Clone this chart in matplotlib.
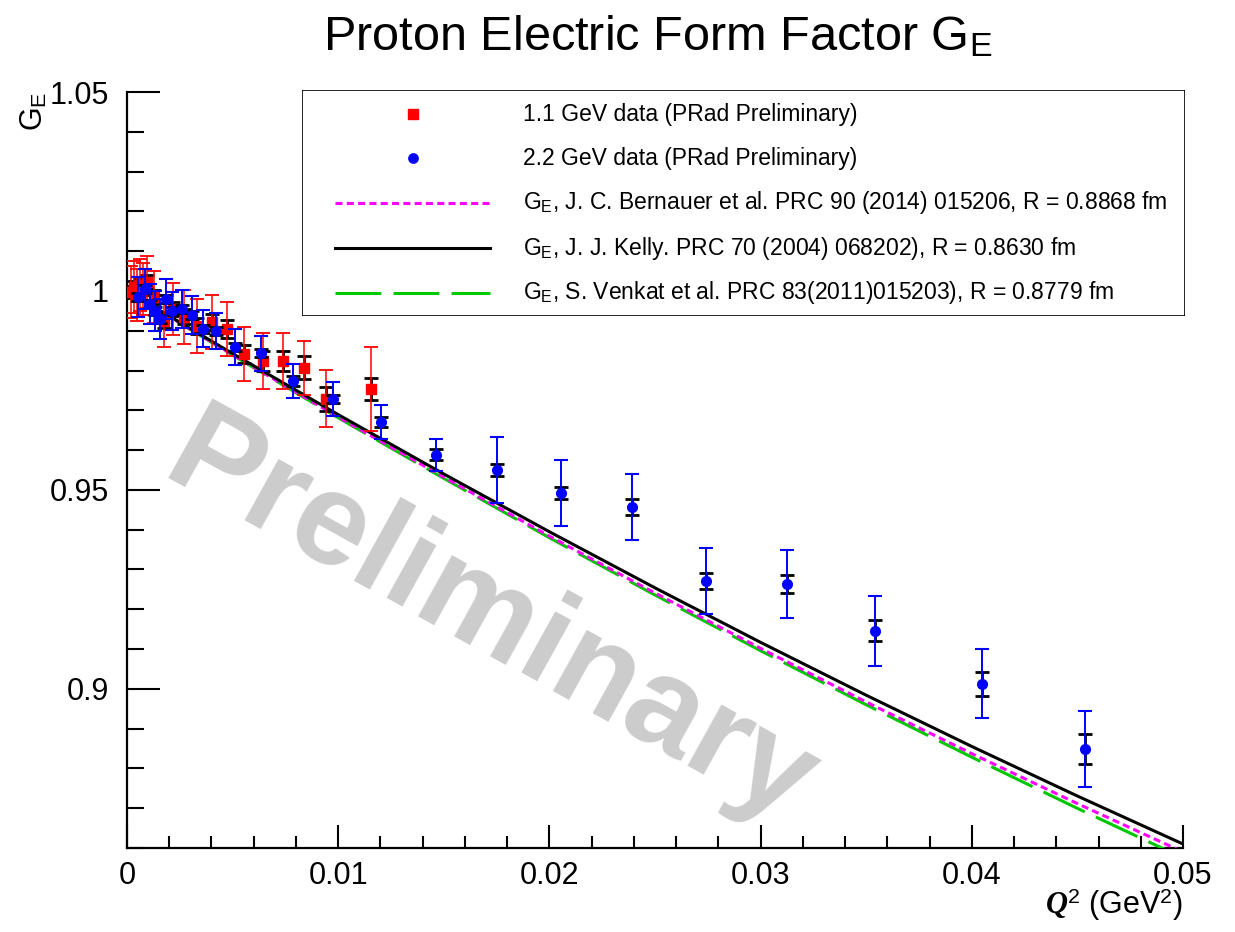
import matplotlib
matplotlib.use("Agg")
import matplotlib.pyplot as plt
from matplotlib.patches import Rectangle
from matplotlib.ticker import MultipleLocator

plt.rcParams['font.family'] = ['Liberation Sans', 'DejaVu Sans']
plt.rcParams['mathtext.fontset'] = 'custom'
plt.rcParams['mathtext.rm'] = 'Liberation Sans'
plt.rcParams['mathtext.it'] = 'Liberation Serif:italic'
plt.rcParams['mathtext.bfit'] = 'Liberation Serif:italic:bold'

# 1.1 GeV data (red squares)
q_11 = [0.00019, 0.00033, 0.00047, 0.00062, 0.00076, 0.00095, 0.00128, 0.00175, 0.00218, 0.00268,
        0.00331, 0.00402, 0.00473, 0.00554, 0.00644, 0.00739, 0.00838, 0.00942, 0.01155]
ge_11 = [0.9998, 1.0010, 0.9990, 1.0015, 1.0005, 1.0023, 0.9985, 0.9925, 0.9955, 0.9935,
         0.9912, 0.9922, 0.9905, 0.9842, 0.9824, 0.9824, 0.9807, 0.9729, 0.9754]
tot_11 = [0.0065, 0.0065, 0.0065, 0.0065, 0.0065, 0.0065, 0.0065, 0.0065, 0.0065, 0.0068,
          0.0068, 0.0068, 0.0068, 0.0068, 0.0070, 0.0070, 0.0068, 0.0072, 0.0105]
stat_11 = [0.0015, 0.0015, 0.0015, 0.0015, 0.0016, 0.0016, 0.0017, 0.0018, 0.0018, 0.0019,
           0.0020, 0.0021, 0.0022, 0.0023, 0.0024, 0.0025, 0.0029, 0.0030, 0.0028]

# 2.2 GeV data (blue circles)
q_22 = [0.00052, 0.00085, 0.00109, 0.00133, 0.00156, 0.00185, 0.00213, 0.0026, 0.00308, 0.0036,
        0.00421, 0.00511, 0.00635, 0.00786, 0.00975, 0.01203, 0.01463, 0.01752, 0.02055, 0.0239,
        0.0274, 0.03125, 0.0354, 0.0405, 0.04536]
ge_22 = [0.9985, 1.0005, 0.9967, 0.9950, 0.9930, 0.9980, 0.9950, 0.9955, 0.9940, 0.9905,
         0.9900, 0.9859, 0.9844, 0.9774, 0.9729, 0.9671, 0.9588, 0.9550, 0.9492, 0.9457,
         0.9271, 0.9264, 0.9146, 0.9013, 0.8849]
tot_22 = [0.0050, 0.0050, 0.0050, 0.0050, 0.0050, 0.0050, 0.0048, 0.0048, 0.0047, 0.0046,
          0.0045, 0.0045, 0.0044, 0.0043, 0.0043, 0.0043, 0.0041, 0.0082, 0.0083, 0.0084,
          0.0084, 0.0085, 0.0088, 0.0087, 0.0095]
stat_22 = [0.0010, 0.0010, 0.0010, 0.0010, 0.0010, 0.0010, 0.0010, 0.0010, 0.0010, 0.0010,
           0.0010, 0.0011, 0.0011, 0.0012, 0.0010, 0.0013, 0.0014, 0.0014, 0.0016, 0.0019,
           0.0021, 0.0023, 0.0026, 0.0030, 0.0038]

# model curves
q_model = [0.0, 0.005, 0.01, 0.015, 0.02, 0.025, 0.03, 0.035, 0.04, 0.045, 0.05]
ge_kelly = [1.0, 0.98426, 0.96892, 0.95400, 0.93948, 0.92538, 0.91168, 0.89840, 0.88552, 0.87306, 0.86100]
ge_bernauer = [1.0, 0.98396, 0.96832, 0.95320, 0.93838, 0.92408, 0.91018, 0.89670, 0.88372, 0.87116, 0.85900]
ge_venkat = [1.0, 0.98386, 0.96812, 0.95290, 0.93798, 0.92358, 0.90958, 0.89600, 0.88282, 0.86996, 0.85750]

x_ticks = [0, 0.01, 0.02, 0.03, 0.04, 0.05]
x_labels = ['0', '0.01', '0.02', '0.03', '0.04', '0.05']
y_ticks = [0.9, 0.95, 1.0, 1.05]
y_labels = ['0.9', '0.95', '1', '1.05']

legend_labels = [
    "1.1 GeV data (PRad Preliminary)",
    "2.2 GeV data (PRad Preliminary)",
    r"$\mathrm{G}_{\mathrm{E}}$, J. C. Bernauer et al. PRC 90 (2014) 015206, R = 0.8868 fm",
    r"$\mathrm{G}_{\mathrm{E}}$, J. J. Kelly. PRC 70 (2004) 068202), R = 0.8630 fm",
    r"$\mathrm{G}_{\mathrm{E}}$, S. Venkat et al. PRC 83(2011)015203), R = 0.8779 fm",
]

W, H = 1235, 932
fig = plt.figure(figsize=(W / 100, H / 100), dpi=100)
ax = fig.add_axes([127 / W, 1 - 848 / H, 1056 / W, 756 / H])

green = '#00c800'
lw = 2.2

ax.text(0.343, 0.30, 'Preliminary', transform=ax.transAxes, rotation=-29,
        rotation_mode='anchor', ha='center', va='center', fontsize=95,
        fontweight='bold', color='#cccccc', zorder=0)

ax.plot(q_model, ge_venkat, color=green, lw=lw, dashes=(15, 4), zorder=3)
ax.plot(q_model, ge_bernauer, color='magenta', lw=lw, dashes=(2.3, 1.4), zorder=4)
ax.plot(q_model, ge_kelly, color='black', lw=lw, zorder=5)

cap = 4.7
ax.errorbar(q_11, ge_11, yerr=stat_11, fmt='none', ecolor='black', elinewidth=2,
            capsize=cap, capthick=2, zorder=6)
ax.errorbar(q_11, ge_11, yerr=tot_11, fmt='s', color='red', ms=7, elinewidth=1.1,
            capsize=cap, capthick=1.3, zorder=7)
ax.errorbar(q_22, ge_22, yerr=stat_22, fmt='none', ecolor='black', elinewidth=2,
            capsize=cap, capthick=2, zorder=8)
ax.errorbar(q_22, ge_22, yerr=tot_22, fmt='o', color='blue', ms=7, elinewidth=1.4,
            capsize=cap, capthick=1.5, zorder=9)

ax.set_xlim(0, 0.05)
ax.set_ylim(0.86, 1.05)
ax.set_xticks(x_ticks)
ax.set_xticklabels(x_labels)
ax.set_yticks(y_ticks)
ax.set_yticklabels(y_labels)
ax.xaxis.set_minor_locator(MultipleLocator(0.002))
ax.yaxis.set_minor_locator(MultipleLocator(0.01))
for s in ['top', 'right']:
    ax.spines[s].set_visible(False)
for s in ['left', 'bottom']:
    ax.spines[s].set_linewidth(1.6)
ax.tick_params(axis='both', which='both', direction='in', width=1.5, labelsize=22)
ax.tick_params(axis='y', which='major', length=24, pad=13)
ax.tick_params(axis='y', which='minor', length=12)
ax.tick_params(axis='x', which='major', length=16.5, pad=9)
ax.tick_params(axis='x', which='minor', length=8.6)

fig.text(1183 / W, 1 - 905 / H, r"$\mathbfit{Q}^{\mathit{2}}$ (GeV$^{\mathrm{2}}$)",
         ha='right', va='center', fontsize=22)
fig.text(34 / W, 1 - 92 / H, r"$\mathrm{G}_{\mathrm{E}}$", rotation=90,
         ha='center', va='top', fontsize=22)
fig.text(658 / W, 1 - 50 / H, r"Proton Electric Form Factor $\mathrm{G}_{\mathrm{E}}$",
         ha='center', va='baseline', fontsize=35)

# legend box
lax = fig.add_axes([302 / W, 1 - 316 / H, 883 / W, 226 / H])
lax.set_xlim(302, 1185)
lax.set_ylim(316, 90)
lax.axis('off')
lax.add_patch(Rectangle((302, 90), 883, 226, fill=False, ec='black', lw=1.2))
rows = [114, 158, 203, 248, 293]
lax.plot([413], [rows[0]], 's', color='red', ms=6.7)
lax.plot([413], [rows[1]], 'o', color='blue', ms=6.7)
lax.plot([335, 490], [rows[2]] * 2, color='magenta', lw=lw, dashes=(2.3, 1.4))
lax.plot([335, 490], [rows[3]] * 2, color='black', lw=lw)
lax.plot([335, 490], [rows[4]] * 2, color=green, lw=lw, dashes=(15, 4))
for r, lab in zip(rows, legend_labels):
    lax.text(523, r, lab, ha='left', va='center', fontsize=16.5)

fig.savefig('out.png', dpi=100)
